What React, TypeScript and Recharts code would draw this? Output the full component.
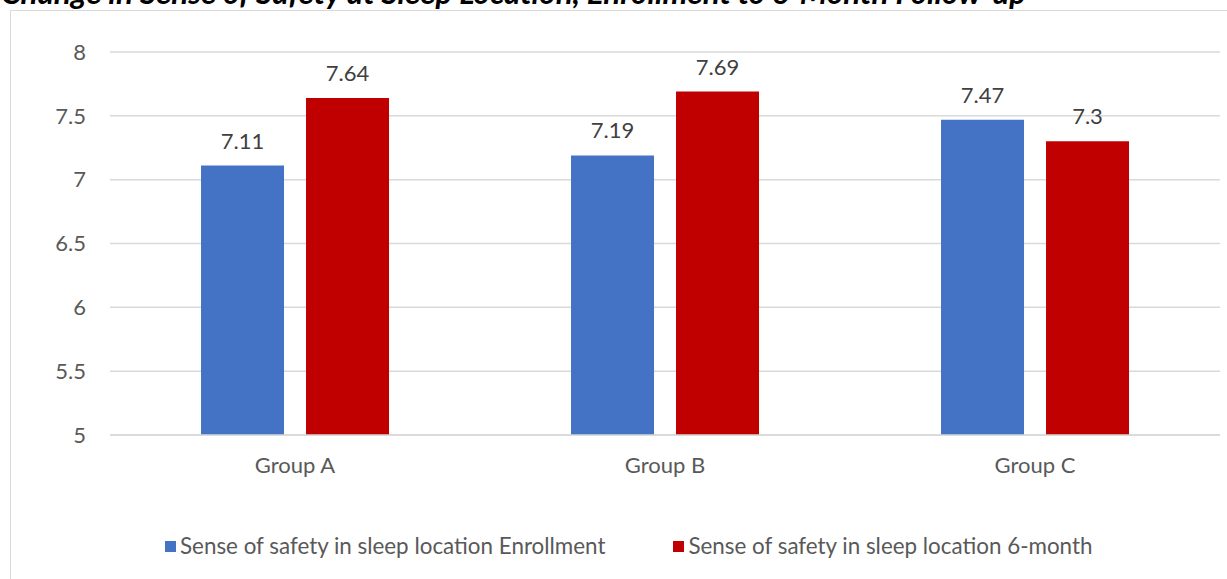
import React from 'react';
import { BarChart, Bar, XAxis, YAxis, CartesianGrid, LabelList } from 'recharts';

const categories = ['Group A', 'Group B', 'Group C'];
const enrollment = [7.11, 7.19, 7.47];
const sixMonth = [7.64, 7.69, 7.3];
const yTicks = [5, 5.5, 6, 6.5, 7, 7.5, 8];
const seriesNames = ['Sense of safety in sleep location Enrollment', 'Sense of safety in sleep location 6-month'];
const colors = ['#4472C4', '#C00000'];
const title = 'Change in Sense of Safety at Sleep Location, Enrollment to 6-Month Follow-up';

const data = categories.map((c, i) => ({ name: c, enrollment: enrollment[i], sixMonth: sixMonth[i] }));

const FONT = 'Lato, "Open Sans", sans-serif';

export default function App() {
  return (
    <div style={{ position: 'absolute', left: 0, top: 0, width: 1227, height: 579, overflow: 'hidden', background: '#fff' }}>
      <div style={{ position: 'absolute', left: 1, top: -26, whiteSpace: 'nowrap', fontFamily: FONT, fontWeight: 700, fontStyle: 'italic', fontSize: 31.4, color: '#000', lineHeight: '37px' }}>
        {title}
      </div>
      <div style={{ position: 'absolute', left: 10, top: 10, width: 1240, height: 600, border: '1px solid #d9d9d9', boxSizing: 'border-box' }} />
      <div style={{ position: 'absolute', left: 0, top: 0 }}>
        <BarChart width={1227} height={579} data={data} margin={{ top: 52, right: 7, bottom: 0, left: 0 }} barGap={22} barCategoryGap="24.6%">
          <CartesianGrid vertical={false} stroke="#d9d9d9" strokeWidth={1.5} />
          <XAxis dataKey="name" height={144} axisLine={{ stroke: '#d9d9d9', strokeWidth: 1.5 }} tickLine={false} tick={{ fill: '#595959', fontSize: 22, fontFamily: FONT }} tickMargin={16} />
          <YAxis width={110} domain={[5, 8]} ticks={yTicks} axisLine={false} tickLine={false} tick={{ fill: '#595959', fontSize: 22, fontFamily: FONT }} tickMargin={18} />
          <Bar dataKey="enrollment" name={seriesNames[0]} fill={colors[0]} isAnimationActive={false}>
            <LabelList dataKey="enrollment" position="top" offset={17} fill="#404040" fontSize={22} fontFamily={FONT} />
          </Bar>
          <Bar dataKey="sixMonth" name={seriesNames[1]} fill={colors[1]} isAnimationActive={false}>
            <LabelList dataKey="sixMonth" position="top" offset={17} fill="#404040" fontSize={22} fontFamily={FONT} />
          </Bar>
        </BarChart>
      </div>
      <div style={{ position: 'absolute', left: 0, top: 532, width: 1227, display: 'flex', fontFamily: FONT, fontSize: 22.4, color: '#595959', lineHeight: '28px' }}>
        {seriesNames.map((n, i) => (
          <div key={n} style={{ display: 'flex', alignItems: 'center', marginLeft: i === 0 ? 165 : 68 }}>
            <span style={{ display: 'inline-block', width: 11, height: 11, background: colors[i], marginRight: 4 }} />
            <span>{n}</span>
          </div>
        ))}
      </div>
    </div>
  );
}
